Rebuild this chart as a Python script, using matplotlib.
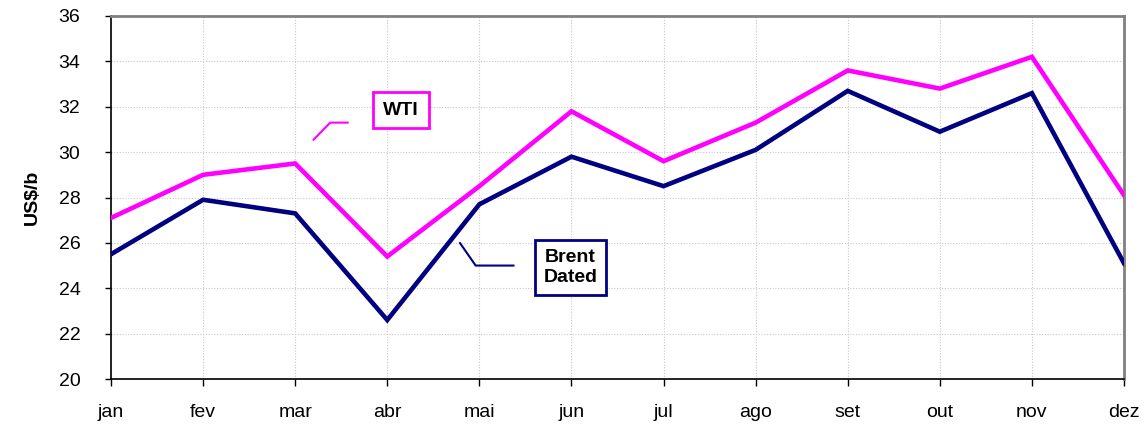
import matplotlib.pyplot as plt

plt.rcParams['font.family'] = ['Liberation Sans', 'DejaVu Sans']

# Monthly averages (US$/b)
months = ["jan", "fev", "mar", "abr", "mai", "jun", "jul", "ago", "set", "out", "nov", "dez"]
wti = [27.1, 29.0, 29.5, 25.4, 28.5, 31.8, 29.6, 31.3, 33.6, 32.8, 34.2, 28.1]
brent = [25.5, 27.9, 27.3, 22.6, 27.7, 29.8, 28.5, 30.1, 32.7, 30.9, 32.6, 25.1]

WTI_COLOR = "#FF00FF"
BRENT_COLOR = "#000080"

fig = plt.figure(figsize=(11.47, 4.34), dpi=100)
ax = fig.add_axes([111 / 1147, 55 / 434, 1013 / 1147, 363 / 434])

x = list(range(len(months)))
ax.plot(x, wti, color=WTI_COLOR, lw=3.3, solid_joinstyle="miter", zorder=3)
ax.plot(x, brent, color=BRENT_COLOR, lw=3.3, solid_joinstyle="miter", zorder=3)

ax.set_xlim(0, 11)
ax.set_ylim(20, 36)
ax.set_xticks(x)
ax.set_xticklabels(months)
ax.set_yticks(range(20, 37, 2))
ax.grid(True, color="#c8c8c8", linestyle=(0, (1, 1.5)), lw=0.8)
ax.tick_params(axis="x", length=5, width=1, pad=13, labelsize=14)
ax.tick_params(axis="y", length=4, width=1, pad=18, labelsize=14)
ax.set_ylabel("US$/b", fontsize=14, fontweight="bold", labelpad=13)

for side in ("left", "bottom"):
    ax.spines[side].set_color("black")
    ax.spines[side].set_linewidth(1.2)
for side in ("top", "right"):
    ax.spines[side].set_color("#808080")
    ax.spines[side].set_linewidth(2)

# Series labels with leader lines
ax.text(3.15, 31.85, "WTI", fontsize=14, fontweight="bold", ha="center", va="center",
        bbox=dict(boxstyle="square,pad=0.5", fc="white", ec=WTI_COLOR, lw=2), zorder=4)
ax.plot([2.2, 2.38, 2.57], [30.55, 31.3, 31.3], color=WTI_COLOR, lw=1.5, zorder=4)

ax.text(4.99, 24.93, "Brent\nDated", fontsize=14, fontweight="bold", ha="center", va="center",
        linespacing=1.25,
        bbox=dict(boxstyle="square,pad=0.45", fc="white", ec=BRENT_COLOR, lw=2), zorder=4)
ax.plot([3.79, 3.96, 4.37], [25.99, 25.0, 25.0], color=BRENT_COLOR, lw=1.5, zorder=4)

fig.savefig("out.png", dpi=100)
